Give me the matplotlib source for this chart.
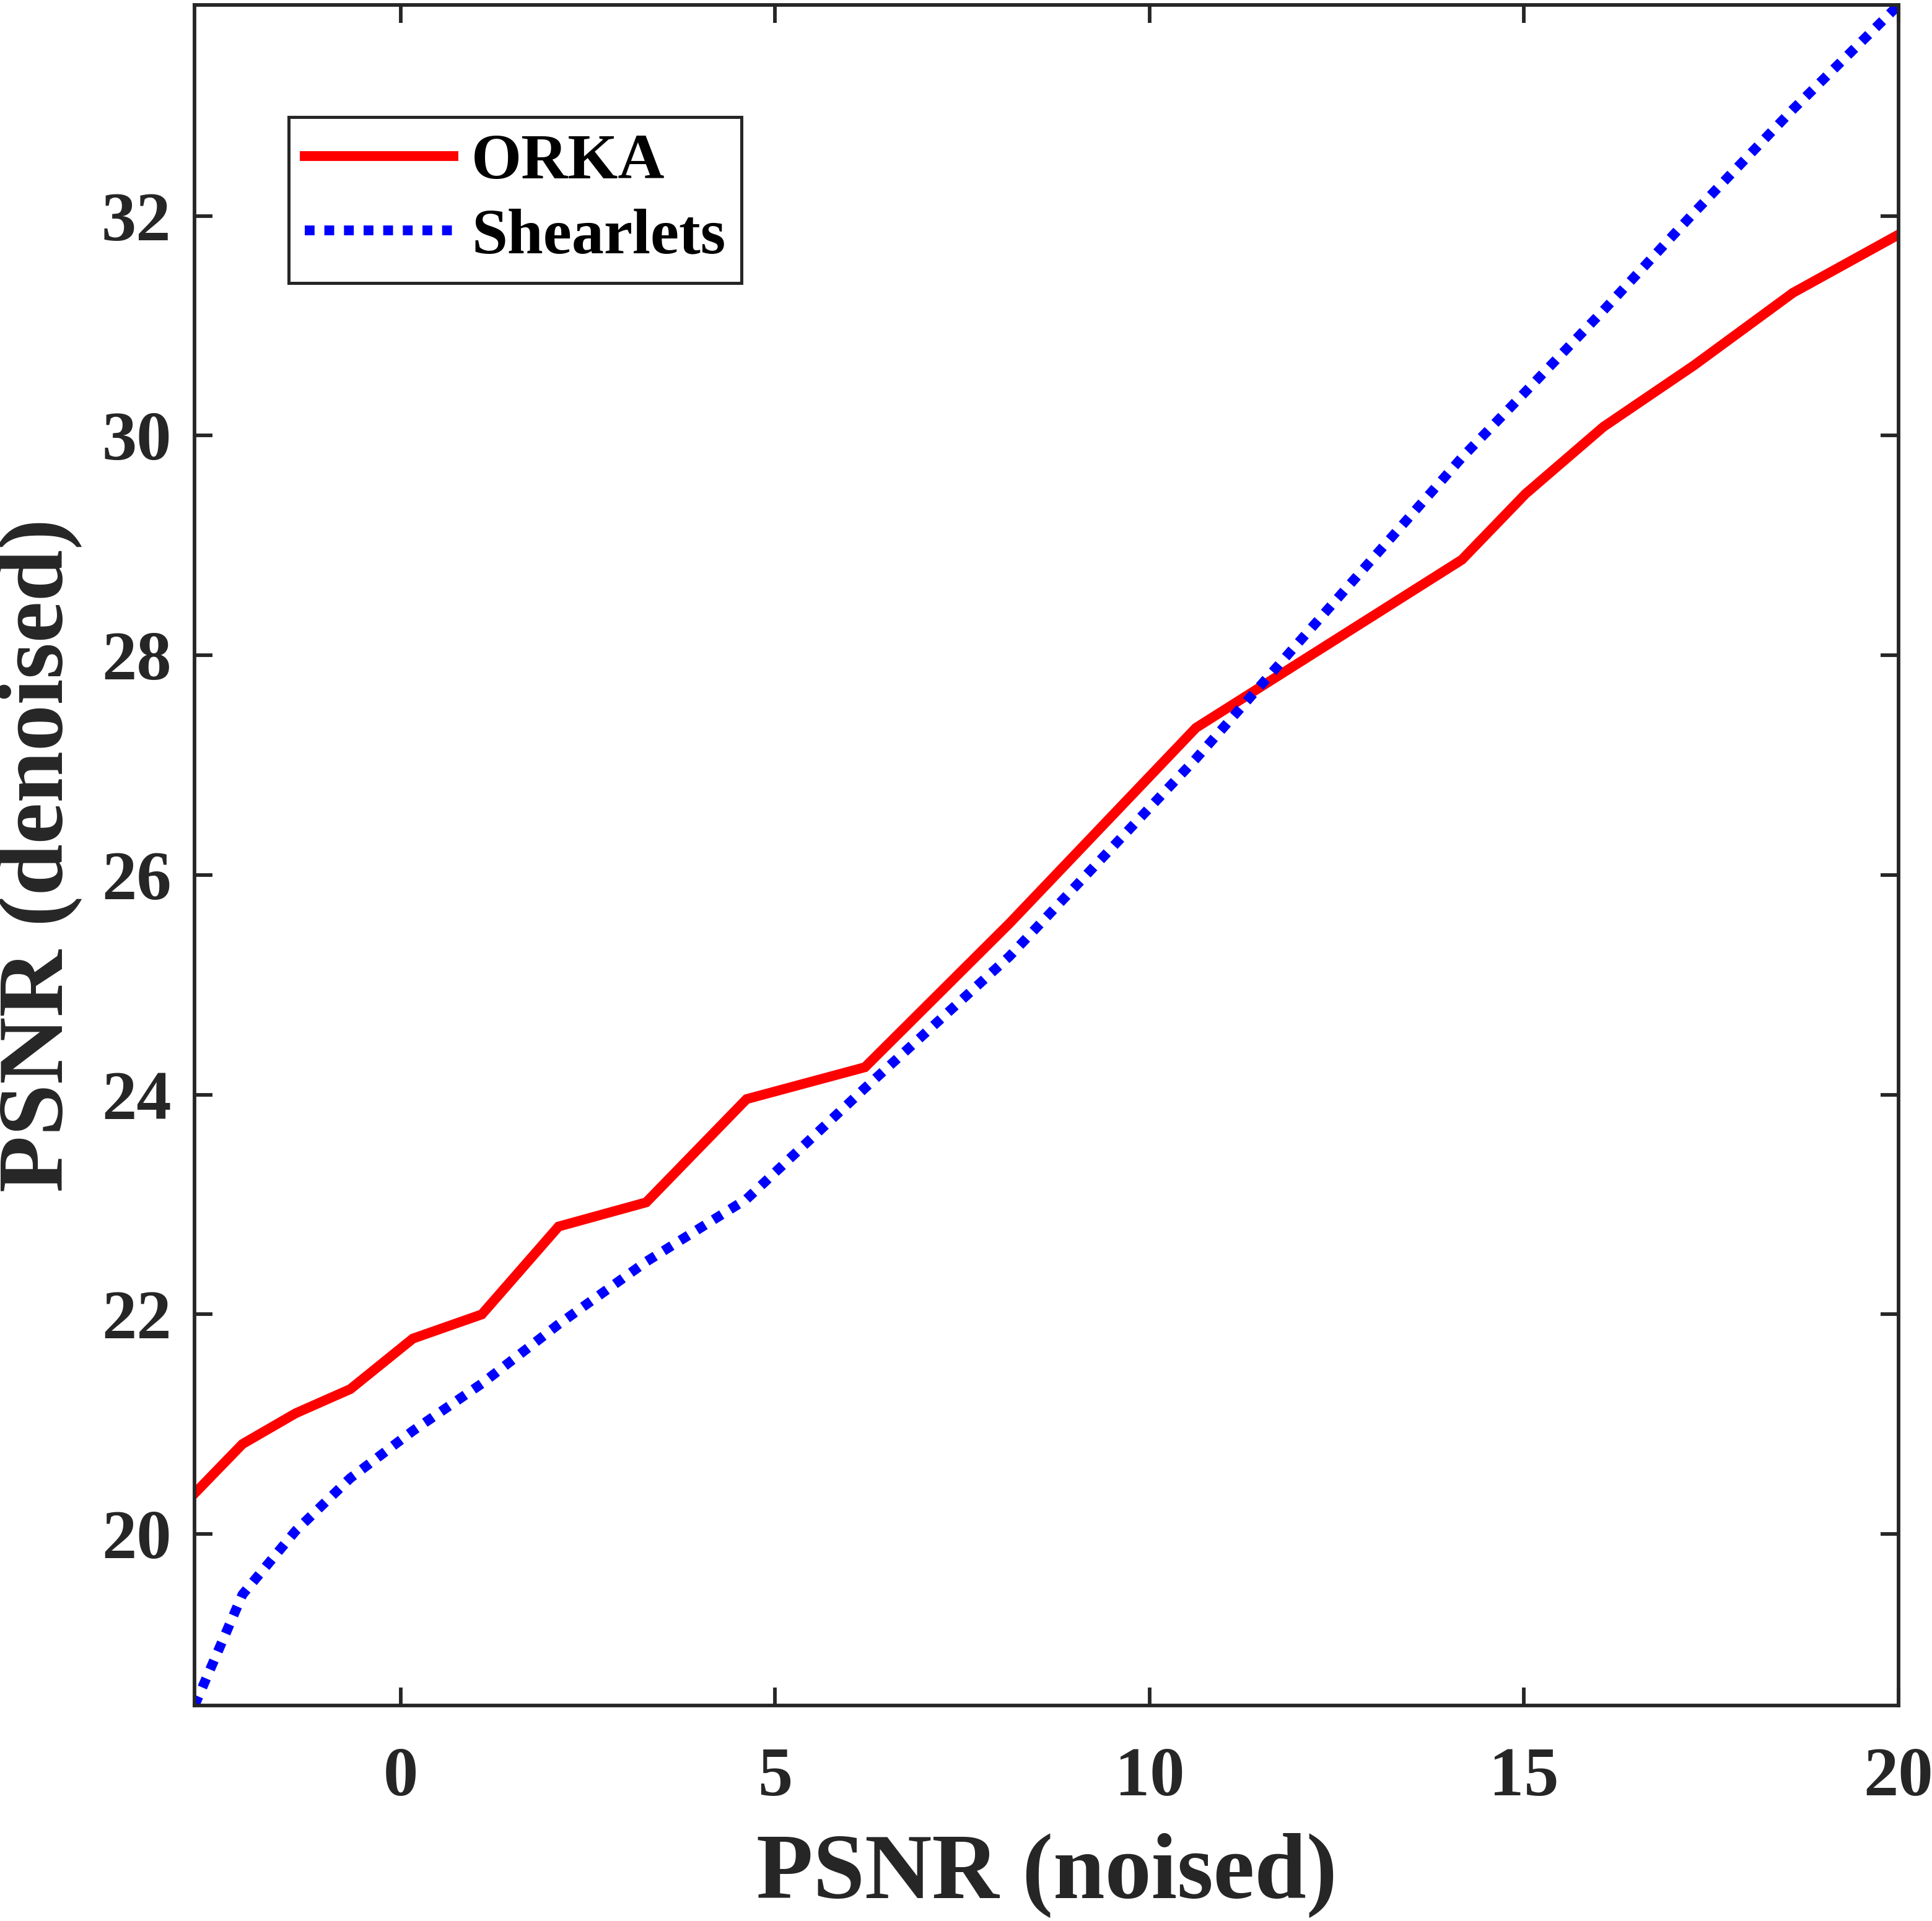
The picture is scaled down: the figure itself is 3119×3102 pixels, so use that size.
import numpy as np
import matplotlib
matplotlib.use('Agg')
import matplotlib.pyplot as plt

plt.rcParams['font.family'] = ['Liberation Serif', 'DejaVu Serif']
plt.rcParams['font.weight'] = 'bold'

# PSNR values
psnr_noised = [-2.75, -2.11, -1.40, -0.67, 0.165, 1.085, 2.11, 3.28, 4.62, 6.20,
               8.13, 10.62, 14.17, 15.02, 16.06, 17.27, 18.59, 20.0]
orka = [20.37, 20.82, 21.10, 21.32, 21.78, 22.00, 22.80, 23.02, 23.96, 24.25,
        25.56, 27.34, 28.87, 29.47, 30.08, 30.64, 31.30, 31.83]
shearlets = [18.44, 19.45, 20.03, 20.51, 20.94, 21.37, 21.91, 22.48, 23.05, 24.06,
             25.26, 27.06, 29.80, 30.40, 31.14, 32.03, 32.97, 33.92]

xticks = [0, 5, 10, 15, 20]
yticks = [20, 22, 24, 26, 28, 30, 32]

dark = '#262626'

fig = plt.figure(figsize=(3119 / 300, 3102 / 300), dpi=300)
ax = fig.add_axes([0.1007, 0.1122, 0.8820, 0.8852])

ax.plot(psnr_noised, orka, color=(1, 0, 0), lw=3.8, label='ORKA',
        solid_joinstyle='miter')
ax.plot(psnr_noised, shearlets, color=(0, 0, 1), lw=3.8, linestyle=(0, (1, 1)),
        dash_capstyle='butt', label='Shearlets')

ax.set_xlim(min(psnr_noised), max(psnr_noised))
ax.set_ylim(min(shearlets), max(shearlets))
ax.set_xticks(xticks)
ax.set_yticks(yticks)

ax.tick_params(direction='in', top=True, right=True, length=7, width=1.4,
               colors=dark, labelsize=27)
ax.tick_params(axis='x', pad=16)
ax.tick_params(axis='y', pad=9)
for s in ax.spines.values():
    s.set_linewidth(1.4)
    s.set_color(dark)

ax.set_xlabel('PSNR (noised)', fontsize=36, fontweight='bold', color=dark)
ax.set_ylabel('PSNR (denoised)', fontsize=36, fontweight='bold', color=dark)
ax.xaxis.set_label_coords(0.5, -0.075)
ax.yaxis.set_label_coords(-0.066, 0.5)

leg = ax.legend(loc='upper left', bbox_to_anchor=(0.0553, 0.9341), borderaxespad=0,
                fontsize=25, handlelength=2.3, handletextpad=0.28, borderpad=0.25,
                labelspacing=0.25, fancybox=False, framealpha=1, edgecolor=dark)
leg.get_frame().set_linewidth(1.2)

fig.savefig('out.png', dpi=300)
